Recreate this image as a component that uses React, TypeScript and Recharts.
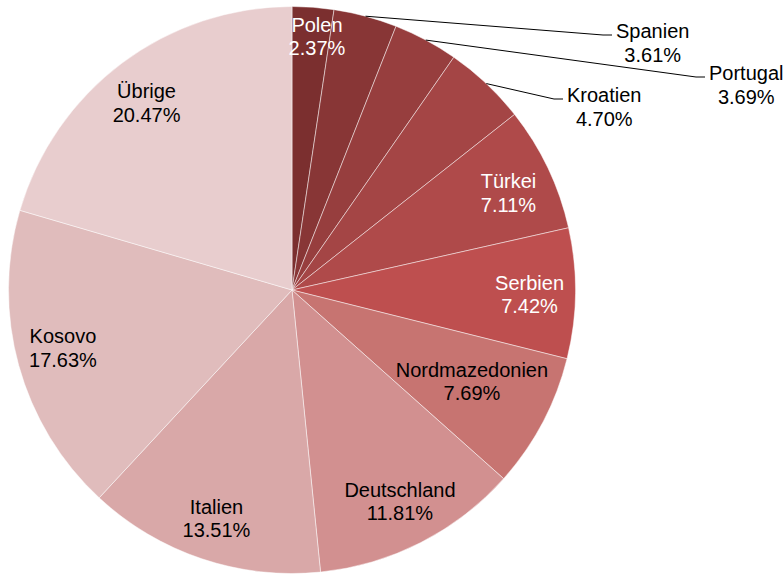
import { PieChart, Pie, Cell } from "recharts";

// shares by country, clockwise from 12 o'clock
const countries = [
  "Polen",
  "Spanien",
  "Portugal",
  "Kroatien",
  "Türkei",
  "Serbien",
  "Nordmazedonien",
  "Deutschland",
  "Italien",
  "Kosovo",
  "Übrige",
];
const shares = [2.37, 3.61, 3.69, 4.7, 7.11, 7.42, 7.69, 11.81, 13.51, 17.63, 20.47];
const sliceColors = [
  "#7b2f2f",
  "#883636",
  "#973e3e",
  "#a44545",
  "#af4a4a",
  "#be4f4f",
  "#c77471",
  "#d29090",
  "#d9a8a8",
  "#e0bcbc",
  "#e8cdce",
];

const data = countries.map((name, i) => ({ name, value: shares[i] }));

const FONT = "'Liberation Sans', Arial, sans-serif";
const FONT_SIZE = 20;
const LINE_GAP = 23.4;
const RADIAN = Math.PI / 180;

// label layout (excel "best fit" style)
const whiteLabels = new Set(["Polen", "Türkei", "Serbien"]);
const labelTweaks: Record<string, { r?: number; dx?: number; dy?: number }> = {
  Polen: { r: 0.9, dx: 6, dy: 1 },
  Türkei: { dx: 2, dy: 5 },
  Serbien: { dy: 2 },
  Nordmazedonien: { r: 0.714, dx: 1, dy: -3 },
  Italien: { dy: 3 },
  Kosovo: { dy: -5 },
  Übrige: { dx: -3, dy: 3 },
};
// end of leader line, relative to pie centre
const outsideLabels: Record<string, { dx: number; dy: number }> = {
  Spanien: { dx: 320, dy: -255 },
  Portugal: { dx: 413, dy: -213 },
  Kroatien: { dx: 271, dy: -191 },
};

let measureCtx: CanvasRenderingContext2D | null = null;
function textWidth(s: string) {
  if (!measureCtx) {
    measureCtx = document.createElement("canvas").getContext("2d");
  }
  if (!measureCtx) return s.length * FONT_SIZE * 0.55;
  measureCtx.font = `${FONT_SIZE}px ${FONT}`;
  return measureCtx.measureText(s).width;
}

function SliceLabel(props: any) {
  const { cx, cy, midAngle, outerRadius, name, value } = props;
  const pct = `${Number(value).toFixed(2)}%`;
  const cos = Math.cos(-midAngle * RADIAN);
  const sin = Math.sin(-midAngle * RADIAN);

  const out = outsideLabels[name];
  if (out) {
    const sx = cx + outerRadius * cos;
    const sy = cy + outerRadius * sin;
    const ex = cx + out.dx;
    const ey = cy + out.dy;
    const tx = ex + 4 + textWidth(name) / 2;
    const ty = ey + 8;
    return (
      <g>
        <polyline
          points={`${sx},${sy} ${ex - 9},${ey} ${ex},${ey}`}
          fill="none"
          stroke="#000"
          strokeWidth={1}
        />
        <text x={tx} y={ty - LINE_GAP / 2} textAnchor="middle" dominantBaseline="central" fill="#000" stroke="none" fontSize={FONT_SIZE} fontFamily={FONT}>
          {name}
        </text>
        <text x={tx} y={ty + LINE_GAP / 2} textAnchor="middle" dominantBaseline="central" fill="#000" stroke="none" fontSize={FONT_SIZE} fontFamily={FONT}>
          {pct}
        </text>
      </g>
    );
  }

  const tw = labelTweaks[name] ?? {};
  const r = outerRadius * (tw.r ?? 0.838);
  const x = cx + r * cos + (tw.dx ?? 0);
  const y = cy + r * sin + (tw.dy ?? 0);
  const color = whiteLabels.has(name) ? "#ffffff" : "#000000";
  return (
    <g>
      <text x={x} y={y - LINE_GAP / 2} textAnchor="middle" dominantBaseline="central" fill={color} stroke="none" fontSize={FONT_SIZE} fontFamily={FONT}>
        {name}
      </text>
      <text x={x} y={y + LINE_GAP / 2} textAnchor="middle" dominantBaseline="central" fill={color} stroke="none" fontSize={FONT_SIZE} fontFamily={FONT}>
        {pct}
      </text>
    </g>
  );
}

export default function App() {
  return (
    <div
      style={{
        position: "absolute",
        left: 0,
        top: 0,
        width: 784,
        height: 574,
        background: "#ffffff",
        fontFamily: FONT,
      }}
    >
      <PieChart width={784} height={574} margin={{ top: 0, right: 0, bottom: 0, left: 0 }}>
        <Pie
          data={data}
          dataKey="value"
          nameKey="name"
          cx={292}
          cy={290}
          outerRadius={283.5}
          startAngle={90}
          endAngle={-270}
          label={SliceLabel}
          labelLine={false}
          isAnimationActive={false}
        >
          {data.map((d, i) => (
            <Cell key={d.name} fill={sliceColors[i]} stroke="#ffffff" strokeOpacity={0.6} strokeWidth={0.8} />
          ))}
        </Pie>
      </PieChart>
    </div>
  );
}
